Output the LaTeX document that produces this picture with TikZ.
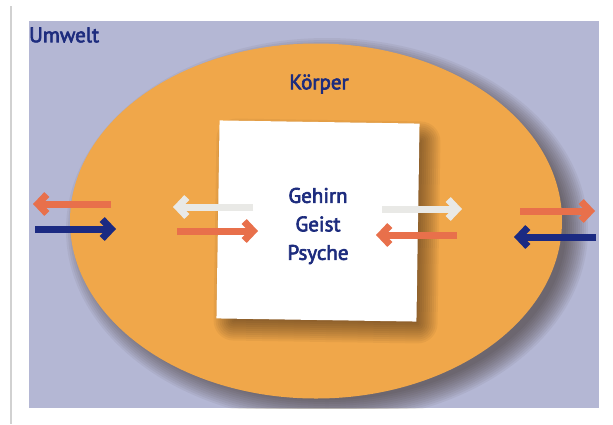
\documentclass[tikz,border=0pt]{standalone}
\usepackage{fontspec}
\setmainfont{PT Sans}
\newfontfamily\labelfont{PT Sans}[FakeBold=3]
\usetikzlibrary{arrows.meta,shapes.geometric}
\definecolor{envbg}{HTML}{B4B7D4}
\definecolor{bodyorange}{HTML}{F0A74A}
\definecolor{flowred}{HTML}{E8704B}
\definecolor{flownavy}{HTML}{1B2A82}
\definecolor{flowwhite}{HTML}{E9E9E6}
\definecolor{inktext}{HTML}{1D2C7E}
\definecolor{shadowtone}{HTML}{2A1A10}
\tikzset{
  label/.style={text=inktext, font=\labelfont\fontsize{21}{28.5}\selectfont, inner sep=0pt},
  flow/.style={line width=7pt, -{Straight Barb[length=9pt,width=19pt,line width=7pt]}},
  softshade/.style={fill=shadowtone, fill opacity=0.055},
}
\begin{document}
\begin{tikzpicture}[x=1pt,y=-1pt]
  \useasboundingbox (0,0) rectangle (613,424);
  \fill[white] (0,0) rectangle (613,424);
  % page edge
  \draw[line width=2pt, black!18] (11,6) -- (11,424);
  % surroundings
  \fill[envbg] (29,21) rectangle (599,408);
  % soft shadow of the body: stacked ellipses growing outwards
  \begin{scope}
    \clip (29,21) rectangle (599,408);
    \foreach \r in {0,2,...,22}
      \fill[softshade] (327,230) ellipse ({246+\r-7} and {177+\r-7});
  \end{scope}
  % body
  \node[ellipse, fill=bodyorange, minimum width=492pt, minimum height=355pt, inner sep=0pt]
        (body) at (316,221) {};
  \node[label] (koerper) at (319,84) {Körper};
  \node[label, anchor=west] (umwelt) at (29,35) {Umwelt};
  % soft shadow of the core square
  \begin{scope}[shift={(327,231)}, rotate=-0.9]
    \foreach \r in {0,2,...,20}
      \fill[softshade, rounded corners={\r pt}] ({-100-\r+8},{-99-\r+8}) rectangle ({100+\r-8},{99+\r-8});
  \end{scope}
  % brain / mind / psyche
  \node[fill=white, minimum width=200pt, minimum height=198pt, rotate=-0.9, inner sep=0pt]
        (core) at (318,221) {};
  \node[label, align=center] (inner) at (318,226) {Gehirn\\Geist\\Psyche};
  % end points of the exchange arrows
  \coordinate (a1s) at (111,204); \coordinate (a1e) at (33,204);
  \coordinate (a2s) at (35,229);  \coordinate (a2e) at (116,229);
  \coordinate (b1s) at (253,207); \coordinate (b1e) at (173,207);
  \coordinate (b2s) at (177,231); \coordinate (b2e) at (258,231);
  \coordinate (c1s) at (382,209); \coordinate (c1e) at (462,209);
  \coordinate (c2s) at (457,235); \coordinate (c2e) at (376,235);
  \coordinate (d1s) at (520,211); \coordinate (d1e) at (595,211);
  \coordinate (d2s) at (596,237); \coordinate (d2e) at (514,237);
  % body <-> surroundings
  \draw[flow, flowred] (a1s) -- (a1e);
  \draw[flow, flownavy] (a2s) -- (a2e);
  \draw[flow, flowred] (d1s) -- (d1e);
  \draw[flow, flownavy] (d2s) -- (d2e);
  % body <-> brain
  \draw[flow, flowwhite] (b1s) -- (b1e);
  \draw[flow, flowred] (b2s) -- (b2e);
  \draw[flow, flowwhite] (c1s) -- (c1e);
  \draw[flow, flowred] (c2s) -- (c2e);
\end{tikzpicture}
\end{document}
